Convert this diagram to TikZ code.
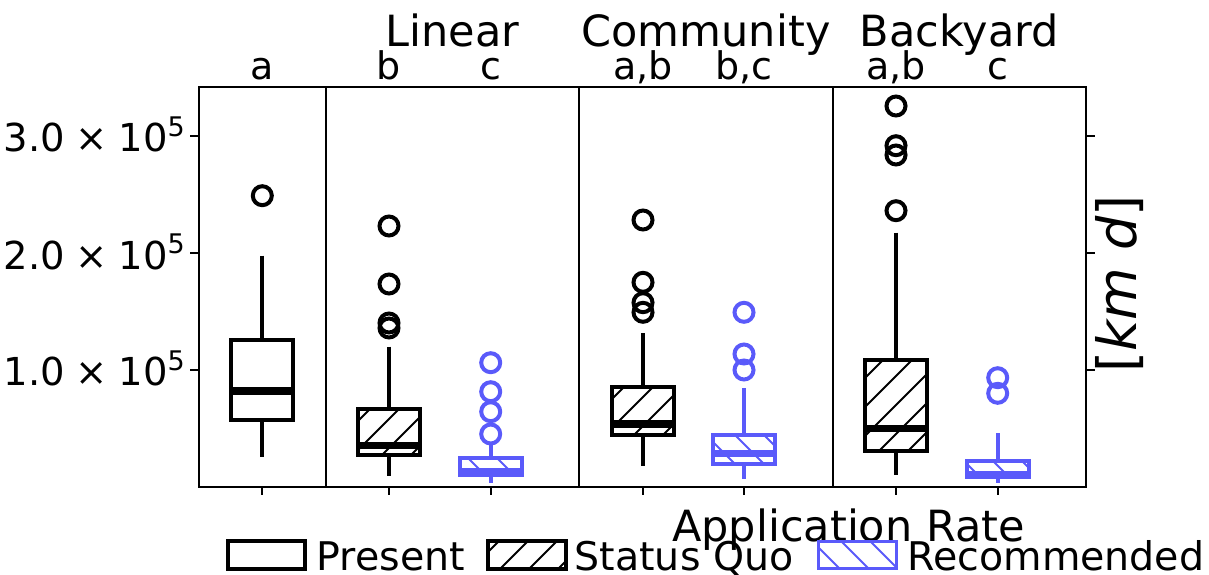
\documentclass[tikz,border=0pt]{standalone}
\usepackage{fontspec}
\setmainfont{DejaVu Sans}
\definecolor{recblue}{RGB}{90,90,250}

% '/' hatching (status quo) clipped to a rectangle: x-left, y-top, x-right, y-bottom
\newcommand{\hatchsq}[4]{%
  \begin{scope}
    \clip (#1,#2) rectangle (#3,#4);
    \pgfmathsetmacro\hxm{(#1+#3)/2}
    \pgfmathsetmacro\hym{(#2+#4)/2}
    \pgfmathtruncatemacro\hn{floor((\hxm+\hym-25)/29)}
    \foreach \k in {-4,...,4}{
      \pgfmathsetmacro\hs{(\hn+\k)*29+25}
      \draw[hatchln,black] ({\hs-\hym-100},{\hym+100}) -- ({\hs-\hym+100},{\hym-100});
    }
  \end{scope}}
% '\' hatching (recommended)
\newcommand{\hatchrec}[4]{%
  \begin{scope}
    \clip (#1,#2) rectangle (#3,#4);
    \pgfmathsetmacro\hxm{(#1+#3)/2}
    \pgfmathsetmacro\hym{(#2+#4)/2}
    \pgfmathtruncatemacro\hn{floor((\hxm-\hym-10)/29)}
    \foreach \k in {-4,...,4}{
      \pgfmathsetmacro\hs{(\hn+\k)*29+10}
      \draw[hatchln,recblue] ({\hs+\hym-100},{\hym-100}) -- ({\hs+\hym+100},{\hym+100});
    }
  \end{scope}}
\newcommand{\nohatch}[4]{}

% box plot: centre x, upper whisker end, upper quartile, median, lower quartile,
% lower whisker end, colour, hatch macro
\newcommand{\bxplot}[8]{%
  \draw[whisk,#7] (#1,#2) -- (#1,#3);
  \draw[whisk,#7] (#1,#5) -- (#1,#6);
  \fill[white] ({#1-31},#3) rectangle ({#1+31},#5);
  #8{#1-31}{#3}{#1+31}{#5}
  \draw[boxln,#7] ({#1-31},#3) rectangle ({#1+31},#5);
  \draw[medln,#7] ({#1-32.5},#4) -- ({#1+32.5},#4);
}
% outlier markers: x, list of y, colour
\newcommand{\fliers}[3]{%
  \foreach \fy in {#2}{\draw[flier,#3] (#1,\fy) circle[radius=9.5];}}

% tick label in scientific notation
\newcommand{\sci}[1]{#1\hspace{.28em}×\hspace{.28em}10\raisebox{.40em}{\fontsize{27}{27}\selectfont 5}}

\begin{document}
\begin{tikzpicture}[x=1pt,y=-1pt,
  whisk/.style={line width=4pt},
  boxln/.style={line width=4pt},
  medln/.style={line width=7.5pt},
  hatchln/.style={line width=2pt},
  flier/.style={line width=4pt},
  spine/.style={line width=2pt},
  divider/.style={line width=1.7pt},
  tickmark/.style={line width=1.7pt},
  ticklab/.style={font=\fontsize{38.5}{40}\selectfont, inner sep=0pt, anchor=base east},
  letter/.style={font=\fontsize{38}{40}\selectfont, inner sep=0pt, anchor=base},
  paneltitle/.style={font=\fontsize{43}{45}\selectfont, inner sep=0pt, anchor=base},
  xlab/.style={font=\fontsize{43}{45}\selectfont, inner sep=0pt, anchor=base},
  ylab/.style={font=\fontsize{54}{56}\selectfont, inner sep=0pt, rotate=90},
  legtext/.style={font=\fontsize{39.5}{41}\selectfont, inner sep=0pt, anchor=base west}]
\useasboundingbox (0,0) rectangle (1209,575);

% ---- boxes ----
\bxplot{262.3}{255.7}{339.5}{390.8}{419.5}{456.7}{black}{\nohatch}
\fliers{262.3}{195.7}{black}
\bxplot{389}{346.7}{408.8}{445.3}{454.7}{476}{black}{\hatchsq}
\fliers{389}{226,284,323,328}{black}
\bxplot{490.7}{443}{458}{472}{475}{483.3}{recblue}{\hatchrec}
\fliers{490.7}{362.7,391.7,411.7,434}{recblue}
\bxplot{643}{333.3}{387.2}{424}{435.3}{465.7}{black}{\hatchsq}
\fliers{643}{220,282.3,302.7,312.3}{black}
\bxplot{744}{388.3}{434.7}{453.3}{463.8}{479.3}{recblue}{\hatchrec}
\fliers{744}{312.3,354,370}{recblue}
\bxplot{896}{232.7}{359.5}{428.3}{450.5}{475}{black}{\hatchsq}
\fliers{896}{106,145.7,155,210.7}{black}
\bxplot{997.7}{433.3}{461.3}{475}{477}{483.3}{recblue}{\hatchrec}
\fliers{997.7}{377.7,393.3}{recblue}

% ---- frame and panel dividers ----
\draw[spine] (198.5,87) rectangle (1086,487);
\foreach \dx in {325.7,579.3,832.7}{\draw[divider] (\dx,87) -- (\dx,487);}

% ---- ticks ----
\foreach \ty in {136,253.3,370}{
  \draw[tickmark] (190,\ty) -- (198.5,\ty);
  \draw[tickmark] (1086,\ty) -- (1095,\ty);
}
\foreach \tx in {262.3,389,490.7,643,744,896,997.7}{\draw[tickmark] (\tx,487) -- (\tx,495);}

\node[ticklab] (yt3) at (185,151.7) {\sci{3.0}};
\node[ticklab] (yt2) at (185,269) {\sci{2.0}};
\node[ticklab] (yt1) at (185,385.7) {\sci{1.0}};

% ---- panel titles and group letters ----
\node[paneltitle] (tLin) at (452.5,46.7) {Linear};
\node[paneltitle] (tCom) at (706,46.7) {Community};
\node[paneltitle] (tBac) at (959.3,46.7) {Backyard};

\node[letter] (gP)  at (262.3,79.3) {a};
\node[letter] (gLs) at (389,79.3) {b};
\node[letter] (gLr) at (490.7,79.3) {c};
\node[letter] (gCs) at (643,79.3) {a,b};
\node[letter] (gCr) at (744,79.3) {b,c};
\node[letter] (gBs) at (896,79.3) {a,b};
\node[letter] (gBr) at (997.7,79.3) {c};

% ---- axis labels ----
\node[ylab] (ylabel) at (1119.5,284) {[\textit{km} \textit{d}]};
\node[xlab] (xlabel) at (848.5,541.7) {Application Rate};

% ---- legend ----
\draw[boxln,black] (228,541.3) rectangle (305.3,568.7);
\node[legtext] (lgP) at (316.5,570) {Present};
\hatchsq{488}{541.3}{566.3}{568.7}
\draw[boxln,black] (488,541.3) rectangle (566.3,568.7);
\node[legtext] (lgS) at (574.5,570) {Status Quo};
\hatchrec{818.7}{541.3}{896.3}{568.7}
\draw[line width=3.5pt,recblue] (818.7,541.3) rectangle (896.3,568.7);
\node[legtext] (lgR) at (907.5,570) {Recommended};
\end{tikzpicture}
\end{document}
